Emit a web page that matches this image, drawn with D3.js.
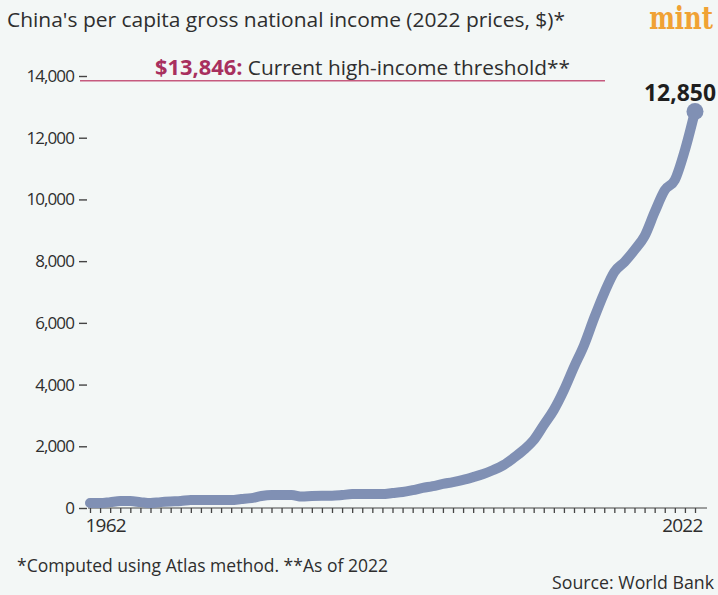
<!DOCTYPE html>
<html>
<head>
<meta charset="utf-8">
<script src="https://cdn.jsdelivr.net/npm/d3@7"></script>
<style>
  html, body { margin: 0; padding: 0; background: #f3f7f6; }
  svg { display: block; font-family: "Open Sans", "Noto Sans", sans-serif; }
</style>
</head>
<body>
<svg id="chart" width="718" height="595"></svg>
<script>
// China's per capita GNI, Atlas method, 2022 prices (US$)
const years = d3.range(1962, 2023);
const gni = [
  160, 160, 190, 225, 225, 190, 160, 190, 210, 225,
  260, 260, 260, 260, 260, 290, 320, 390, 420, 420,
  420, 370, 390, 400, 400, 420, 450, 450, 450, 450,
  485, 520, 580, 650, 710, 780, 840, 910, 1000, 1100,
  1230, 1390, 1620, 1880, 2200, 2690, 3180, 3820, 4570, 5280,
  6160, 6970, 7650, 7970, 8360, 8810, 9590, 10300, 10630, 11600,
  12850
];
const yTicks = [0, 2000, 4000, 6000, 8000, 10000, 12000, 14000];
const xLabelYears = [1962, 2022];
const threshold = 13846;

const svg = d3.select("#chart");
const ink = "#2e2e2e";
const lineColor = "#8090b4";

const x = d3.scaleLinear().domain([1962, 2022]).range([90, 695]);
const y = d3.scaleLinear().domain([0, 14000]).range([508, 76]);

// Title and logo
svg.append("text")
  .attr("x", 7).attr("y", 27)
  .attr("font-size", 20).attr("fill", ink)
  .attr("textLength", 558).attr("lengthAdjust", "spacingAndGlyphs")
  .text("China's per capita gross national income (2022 prices, $)*");

// Logo: serif wordmark, squeezed horizontally
svg.append("g")
  .attr("transform", "translate(713,29) scale(0.76,1)")
  .append("text")
  .attr("text-anchor", "end")
  .style("font-family", "'DejaVu Serif', serif")
  .attr("font-weight", "bold")
  .attr("font-size", 32).attr("fill", "#f0a234")
  .text("mint");

// Y axis: labels with short dash ticks, no domain line
const yAxis = svg.append("g")
  .attr("transform", "translate(87,0)")
  .call(d3.axisLeft(y).tickValues(yTicks).tickSize(8).tickPadding(5)
    .tickFormat(d3.format(",")));
yAxis.select(".domain").remove();
yAxis.selectAll(".tick line").attr("stroke", "#444").attr("stroke-width", 1.4);
yAxis.selectAll(".tick text")
  .attr("font-size", 17).attr("fill", ink)
  .style("font-family", "'Open Sans', sans-serif")
  .style("letter-spacing", "-0.9px");

// X axis: one tick per year, labels only at the ends
const xAxis = svg.append("g")
  .attr("transform", `translate(0,${y(0)})`)
  .call(d3.axisBottom(x).tickValues(years).tickSize(5).tickSizeOuter(0)
    .tickFormat(d => xLabelYears.includes(d) ? d : ""));
xAxis.select(".domain").remove();
xAxis.append("line")
  .attr("x1", x(1962) - 2).attr("x2", x(2022) + 12)
  .attr("stroke", "#444").attr("stroke-width", 1);
xAxis.selectAll(".tick line").attr("stroke", "#444").attr("stroke-width", 1.3);
xAxis.selectAll(".tick text")
  .attr("font-size", 19).attr("fill", ink)
  .style("font-family", "'Open Sans', sans-serif")
  .attr("dy", "0.85em")
  .style("letter-spacing", "-0.8px")
  .attr("text-anchor", d => d === 1962 ? "start" : "end")
  .attr("dx", d => d === 1962 ? -5 : 7);

// High-income threshold
svg.append("line")
  .attr("x1", 80).attr("x2", 605)
  .attr("y1", y(threshold)).attr("y2", y(threshold))
  .attr("stroke", "#c65a7e").attr("stroke-width", 1.6);

const thr = svg.append("text")
  .attr("x", 155).attr("y", 75)
  .attr("textLength", 415).attr("lengthAdjust", "spacingAndGlyphs");
thr.append("tspan")
  .attr("font-weight", "bold").attr("font-size", 21).attr("fill", "#a8305e")
  .text("$" + d3.format(",")(threshold) + ":");
thr.append("tspan")
  .attr("font-size", 20).attr("fill", ink)
  .text(" Current high-income threshold**");

// Income line
const data = years.map((yr, i) => ({ year: yr, value: gni[i] }));
svg.append("path")
  .datum(data)
  .attr("fill", "none")
  .attr("stroke", lineColor)
  .attr("stroke-width", 10)
  .attr("stroke-linejoin", "round")
  .attr("stroke-linecap", "round")
  .attr("d", d3.line().x(d => x(d.year)).y(d => y(d.value)).curve(d3.curveMonotoneX));

const last = data[data.length - 1];
svg.append("circle")
  .attr("cx", x(last.year)).attr("cy", y(last.value))
  .attr("r", 8.5).attr("fill", lineColor);

svg.append("text")
  .attr("x", 680).attr("y", y(last.value) - 10)
  .attr("text-anchor", "middle")
  .attr("font-weight", "bold").attr("font-size", 24).attr("fill", "#1e1e1e")
  .attr("textLength", 72).attr("lengthAdjust", "spacingAndGlyphs")
  .text(d3.format(",")(last.value));

// Footnotes
svg.append("text")
  .attr("x", 17).attr("y", 572)
  .attr("font-size", 18).attr("fill", ink)
  .attr("textLength", 371).attr("lengthAdjust", "spacingAndGlyphs")
  .text("*Computed using Atlas method. **As of 2022");

svg.append("text")
  .attr("x", 714).attr("y", 589)
  .attr("text-anchor", "end")
  .attr("font-size", 18).attr("fill", ink)
  .attr("textLength", 162).attr("lengthAdjust", "spacingAndGlyphs")
  .text("Source: World Bank");
</script>
</body>
</html>
